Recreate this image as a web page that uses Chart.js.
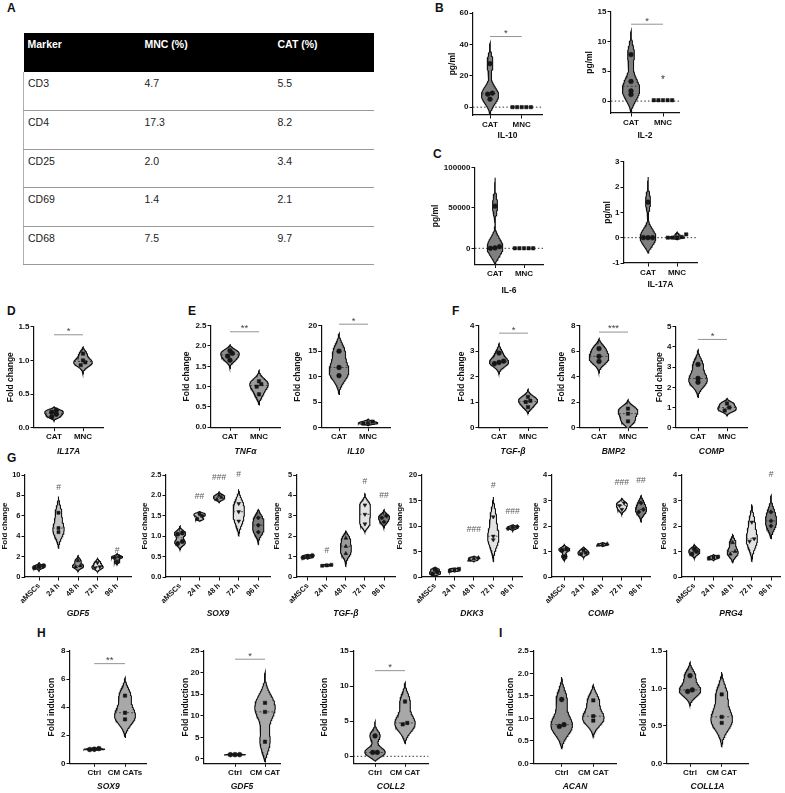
<!DOCTYPE html>
<html lang="en">
<head>
<meta charset="utf-8">
<title>Violin panels</title>
<script src="https://cdn.jsdelivr.net/npm/chart.js@4.4.1/dist/chart.umd.min.js"></script>
<style>
  body { margin: 0; background: #fff; }
  #page { position: relative; width: 785px; height: 793px; overflow: hidden; font-family: "Liberation Sans", Arial, sans-serif; }
  .lbl { position: absolute; font-weight: bold; font-size: 12px; line-height: 1; color: #111; }
  canvas { position: absolute; }
  table.markers { position: absolute; left: 23px; top: 33px; width: 351px; border-collapse: collapse; font-size: 10.5px; color: #222; table-layout: fixed; }
  table.markers th { background: #000; color: #fff; text-align: left; vertical-align: top; height: 39px; padding: 5px 4px 0; box-sizing: border-box; font-weight: bold; }
  table.markers td { vertical-align: top; height: 38.6px; padding: 5px 4px 0; box-sizing: border-box; border-bottom: 1px solid #9a9a9a; }
  table.markers td:first-child { border-left: 1px solid #b0b0b0; }
</style>
</head>
<body>
<div id="page">
  <div class="lbl" style="left:7px;top:2px">A</div>
  <div class="lbl" style="left:435px;top:2px">B</div>
  <div class="lbl" style="left:433px;top:148px">C</div>
  <div class="lbl" style="left:7px;top:305px">D</div>
  <div class="lbl" style="left:188px;top:305px">E</div>
  <div class="lbl" style="left:452px;top:305px">F</div>
  <div class="lbl" style="left:7px;top:452px">G</div>
  <div class="lbl" style="left:37px;top:627px">H</div>
  <div class="lbl" style="left:499px;top:627px">I</div>
  <table class="markers">
    <colgroup><col style="width:117px"><col style="width:133px"><col></colgroup>
    <tr><th>Marker</th><th>MNC (%)</th><th>CAT (%)</th></tr>
    <tr><td>CD3</td><td>4.7</td><td>5.5</td></tr>
    <tr><td>CD4</td><td>17.3</td><td>8.2</td></tr>
    <tr><td>CD25</td><td>2.0</td><td>3.4</td></tr>
    <tr><td>CD69</td><td>1.4</td><td>2.1</td></tr>
    <tr><td>CD68</td><td>7.5</td><td>9.7</td></tr>
  </table>
</div>
<script>
// ---------- data ----------
const catMnc = ['CAT', 'MNC'];
const timeCats = ['aMSCs', '24 h', '48 h', '72 h', '96 h'];

// B / C  (pg/ml)
const il10Vals = [[27.7, 8.9, 8.3, 5.1], [0, 0, 0, 0, 0]];
const il10Ext = [[-5, 41], null];
const il10Ticks = [0, 20, 40, 60];
const il2Vals = [[7.8, 3.3, 1.7, 1.1], [0.15, 0.15, 0.15, 0.15, 0.15]];
const il2Ext = [[-2, 11.8], null];
const il2Ticks = [0, 5, 10, 15];
const il2Note = [[2, 3.9, '*']];
const il6Vals = [[52000, 2000, 500, 0], [0, 0, 0, 0, 0]];
const il6Ext = [[-20000, 87000], null];
const il6Ticks = [0, 50000, 100000];
const il17aVals = [[1.4, 0, 0, 0], [0.13, 0.03, 0, 0, 0]];
const il17aExt = [[-0.6, 2.4], [-0.08, 0.22]];
const il17aTicks = [-1, 0, 1, 2, 3];

// D / E / F  (fold change)
const dIl17aVals = [[0.26, 0.23, 0.2, 0.16], [1.1, 1.0, 0.97, 0.93]];
const dIl17aExt = [[0.1, 0.31], [0.8, 1.2]];
const dIl17aTicks = [0, 0.5, 1, 1.5];
const tnfVals = [[1.88, 1.82, 1.75, 1.65], [1.13, 1.06, 1.0, 0.81]];
const tnfExt = [[1.45, 2.03], [0.55, 1.4]];
const tnfTicks = [0, 0.5, 1, 1.5, 2, 2.5];
const eIl10Vals = [[15, 11.8, 10.2], [1.2, 0.9, 0.8]];
const eIl10Ext = [[6.5, 18.5], [0.4, 1.7]];
const eIl10Ticks = [0, 5, 10, 15, 20];
const tgfVals = [[2.92, 2.6, 2.55, 2.5], [1.2, 1.05, 1.0, 0.8]];
const tgfExt = [[2.1, 3.3], [0.55, 1.5]];
const tgfTicks = [0, 1, 2, 3, 4];
const bmp2Vals = [[6.2, 5.6, 5.2], [1.5, 1.1, 0.5]];
const bmp2Ext = [[4.3, 7.0], [-0.2, 2.2]];
const bmp2Ticks = [0, 2, 4, 6, 8];
const fCompVals = [[3.13, 2.44, 2.25], [1.2, 1.0, 0.85]];
const fCompExt = [[1.5, 3.85], [0.6, 1.45]];
const fCompTicks = [0, 1, 2, 3, 4, 5];

// G  (time course)
const gdf5Vals = [[1.1, 1.0, 0.9], [6.3, 4.8, 4.4], [1.6, 1.1, 1.0], [1.4, 1.0, 0.9], [2.0, 1.9, 1.5]];
const gdf5Ext = [[0.6, 1.4], [2.8, 7.9], [0.55, 2.1], [0.5, 1.9], [1.2, 2.3]];
const gdf5Ticks = [0, 2, 4, 6, 8, 10];
const gdf5Hash = [[2, 8.75, '#'], [5, 2.6, '#']];
const sox9Vals = [[1.08, 1.05, 0.87, 0.82], [1.55, 1.5, 1.42], [2.0, 1.95, 1.9], [1.8, 1.6, 1.37], [1.45, 1.27, 1.1]];
const sox9Ext = [[0.67, 1.25], [1.37, 1.62], [1.83, 2.1], [1.0, 2.15], [0.8, 1.67]];
const sox9Ticks = [0, 0.5, 1, 1.5, 2, 2.5];
const sox9Hash = [[2, 1.96, '##'], [3, 2.43, '###'], [4, 2.5, '#']];
const gTgfVals = [[1.05, 1.0, 0.95], [0.6, 0.57, 0.55], [1.9, 1.5, 1.15], [3.53, 3.07, 2.6], [3.0, 2.9, 2.7]];
const gTgfExt = [[0.88, 1.12], [0.52, 0.62], [0.5, 2.25], [2.2, 4.1], [2.4, 3.3]];
const gTgfTicks = [0, 1, 2, 3, 4, 5];
const gTgfHash = [[2, 1.27, '#'], [4, 4.67, '#'], [5, 4.0, '##']];
const dkk3Vals = [[1.5, 1.0, 0.6], [1.6, 1.4, 1.2], [3.8, 3.6, 3.3], [11.8, 8.0, 7.3], [9.9, 9.7, 9.5]];
const dkk3Ext = [[0, 1.9], [1.0, 1.8], [3.0, 4.1], [3.0, 15.7], [9.0, 10.3]];
const dkk3Ticks = [0, 5, 10, 15, 20];
const dkk3Hash = [[3, 9.2, '###'], [4, 18.0, '#'], [5, 12.8, '###']];
const gCompVals = [[1.1, 1.05, 0.8], [1.05, 0.95, 0.9], [1.3, 1.27, 1.25], [2.9, 2.8, 2.65], [2.9, 2.65, 2.55]];
const gCompExt = [[0.65, 1.3], [0.75, 1.2], [1.2, 1.37], [2.45, 3.1], [2.15, 3.2]];
const gCompTicks = [0, 1, 2, 3, 4];
const gCompHash = [[4, 3.7, '###'], [5, 3.76, '##']];
const prg4Vals = [[1.1, 1.0, 0.9], [0.8, 0.77, 0.72], [1.35, 1.0, 0.9], [2.15, 1.5, 1.4], [2.55, 2.2, 2.0]];
const prg4Ext = [[0.73, 1.3], [0.65, 0.9], [0.55, 1.7], [0.6, 2.85], [1.5, 3.2]];
const prg4Ticks = [0, 1, 2, 3, 4];
const prg4Hash = [[5, 4.0, '#']];

// H / I  (fold induction)
const hSox9Vals = [[1.05, 1.0, 0.98], [4.82, 3.6, 3.13]];
const hSox9Ext = [[0.9, 1.1], [1.85, 6.1]];
const hSox9Ticks = [0, 2, 4, 6, 8];
const hGdf5Vals = [[1.0, 1.0, 1.0], [13.0, 10.9, 4.0]];
const hGdf5Ext = [[0.8, 1.2], [-0.7, 20.1]];
const hGdf5Ticks = [0, 5, 10, 15, 20, 25];
const coll2Vals = [[2.9, 0.55, 0.55], [7.8, 4.75, 4.55]];
const coll2Ext = [[-0.7, 4.95], [1.8, 10.5]];
const coll2Ticks = [0, 5, 10, 15];
const acanVals = [[1.42, 0.86, 0.82], [1.4, 1.05, 0.95]];
const acanExt = [[0.32, 1.92], [0.58, 1.77]];
const acanTicks = [0, 0.5, 1, 1.5, 2, 2.5];
const coll1aVals = [[1.17, 0.98, 0.96], [0.92, 0.62, 0.54]];
const coll1aExt = [[0.77, 1.35], [0.22, 1.22]];
const coll1aTicks = [0, 0.5, 1, 1.5];

// ---------- layout ----------
// box: y-axis x, first category x, last category x, x-axis end, top tick y, axis bottom y, y-title x, x-title y
const fillB = ['#7f7f7f', '#8a8a8a'];
const fillD = ['#8c8c8c', '#9c9c9c'];
const fillG = ['#a9a9a9', '#c6c6c6', '#9b9b9b', '#e3e3e3', '#7d7d7d'];
const fillH = ['#8e8e8e', '#a8a8a8'];
const markCM = ['circle', 'rect'];
const markG = ['circle', 'rect', 'triangle', 'triangleDown', 'rectRot'];

const panels = [
  {box: [473, 490, 521.7, 542, 13, 115, 453, 136], cats: catMnc, vals: il10Vals, ext: il10Ext, ticks: il10Ticks, min: -5, title: 'IL-10', yTitle: 'pg/ml', italic: false, sig: [45, '*'], zero: true, fills: fillB, marks: markCM, half: 0.27},
  {box: [611, 631, 663, 679, 11.7, 113, 590, 136], cats: catMnc, vals: il2Vals, ext: il2Ext, ticks: il2Ticks, min: -2, title: 'IL-2', yTitle: 'pg/ml', italic: false, sig: [12.9, '*'], stars: il2Note, zero: true, fills: fillB, marks: markCM, half: 0.27},
  {box: [475, 495, 524, 543, 167.3, 264.5, 436, 291], cats: catMnc, vals: il6Vals, ext: il6Ext, ticks: il6Ticks, min: -20000, title: 'IL-6', yTitle: 'pg/ml', italic: false, zero: true, fills: fillB, marks: markCM, half: 0.27},
  {box: [624, 648, 677, 697, 161.7, 263, 608, 285], cats: catMnc, vals: il17aVals, ext: il17aExt, ticks: il17aTicks, title: 'IL-17A', yTitle: 'pg/ml', italic: false, zero: true, fills: fillB, marks: markCM, half: 0.27},

  {box: [34, 54, 83, 103, 326.7, 427.7, 11, 452], cats: catMnc, vals: dIl17aVals, ext: dIl17aExt, ticks: dIl17aTicks, title: 'IL17A', yTitle: 'Fold change', italic: true, sig: [1.38, '*'], fills: fillD, marks: markCM, half: 0.32},
  {box: [211, 230, 259, 280, 325.7, 427.2, 187, 452], cats: catMnc, vals: tnfVals, ext: tnfExt, ticks: tnfTicks, title: 'TNFα', yTitle: 'Fold change', italic: true, sig: [2.35, '**'], fills: fillD, marks: markCM, half: 0.32},
  {box: [321.7, 339, 368, 390, 325.7, 427.7, 298, 452], cats: catMnc, vals: eIl10Vals, ext: eIl10Ext, ticks: eIl10Ticks, title: 'IL10', yTitle: 'Fold change', italic: true, sig: [20.3, '*'], fills: fillD, marks: markCM, half: 0.34},
  {box: [479, 499, 528, 547, 325.5, 427.5, 462, 452], cats: catMnc, vals: tgfVals, ext: tgfExt, ticks: tgfTicks, title: 'TGF-β', yTitle: 'Fold change', italic: true, sig: [3.7, '*'], fills: fillD, marks: markCM, half: 0.33},
  {box: [580, 599, 628, 647, 325.7, 427.7, 562, 452], cats: catMnc, vals: bmp2Vals, ext: bmp2Ext, ticks: bmp2Ticks, title: 'BMP2', yTitle: 'Fold change', italic: true, sig: [7.5, '***'], fills: fillD, marks: markCM, half: 0.34},
  {box: [676, 698, 727, 747, 326.7, 427.7, 660, 452], cats: catMnc, vals: fCompVals, ext: fCompExt, ticks: fCompTicks, title: 'COMP', yTitle: 'Fold change', italic: true, sig: [4.37, '*'], fills: fillD, marks: markCM, half: 0.32},

  {box: [25, 39, 117, 131, 475, 577, 5, 614], cats: timeCats, vals: gdf5Vals, ext: gdf5Ext, ticks: gdf5Ticks, title: 'GDF5', yTitle: 'Fold change', italic: true, notes: gdf5Hash, fills: fillG, marks: markG, half: 0.29, rot: 45},
  {box: [166, 180, 258.3, 270, 475, 577, 145, 614], cats: timeCats, vals: sox9Vals, ext: sox9Ext, ticks: sox9Ticks, title: 'SOX9', yTitle: 'Fold change', italic: true, notes: sox9Hash, fills: fillG, marks: markG, half: 0.29, rot: 45},
  {box: [296.7, 307.7, 384, 395, 475, 577, 277, 614], cats: timeCats, vals: gTgfVals, ext: gTgfExt, ticks: gTgfTicks, title: 'TGF-β', yTitle: 'Fold change', italic: true, notes: gTgfHash, fills: fillG, marks: markG, half: 0.29, rot: 45},
  {box: [421.7, 435, 512.7, 522, 475, 577, 400, 614], cats: timeCats, vals: dkk3Vals, ext: dkk3Ext, ticks: dkk3Ticks, title: 'DKK3', yTitle: 'Fold change', italic: true, notes: dkk3Hash, fills: fillG, marks: markG, half: 0.29, rot: 45},
  {box: [551.7, 564.3, 641, 650, 475, 577, 536, 614], cats: timeCats, vals: gCompVals, ext: gCompExt, ticks: gCompTicks, title: 'COMP', yTitle: 'Fold change', italic: true, notes: gCompHash, fills: fillG, marks: markG, half: 0.29, rot: 45},
  {box: [681.7, 694.3, 771, 780, 475, 577, 664, 614], cats: timeCats, vals: prg4Vals, ext: prg4Ext, ticks: prg4Ticks, title: 'PRG4', yTitle: 'Fold change', italic: true, notes: prg4Hash, fills: fillG, marks: markG, half: 0.29, rot: 45},

  {box: [70, 94.3, 125, 146.7, 651, 763.3, 51.7, 787], cats: ['Ctrl', 'CM CATs'], vals: hSox9Vals, ext: hSox9Ext, ticks: hSox9Ticks, title: 'SOX9', yTitle: 'Fold induction', italic: true, sig: [7.1, '**'], fills: fillH, marks: markCM, half: 0.34},
  {box: [204, 235, 265, 280, 651, 763.3, 186, 787], cats: ['Ctrl', 'CM CAT'], vals: hGdf5Vals, ext: hGdf5Ext, ticks: hGdf5Ticks, min: -1, title: 'GDF5', yTitle: 'Fold induction', italic: true, sig: [23.1, '*'], fills: fillH, marks: markCM, half: 0.34},
  {box: [353.3, 375, 405, 428.3, 651, 763.3, 325.5, 787], cats: ['Ctrl', 'CM CAT'], vals: coll2Vals, ext: coll2Ext, ticks: coll2Ticks, min: -1, title: 'COLL2', yTitle: 'Fold induction', italic: true, sig: [12.2, '*'], zero: true, fills: fillH, marks: markCM, half: 0.34},
  {box: [533.3, 561.7, 593.3, 616.7, 651, 763.3, 511, 787], cats: ['Ctrl', 'CM CAT'], vals: acanVals, ext: acanExt, ticks: acanTicks, title: 'ACAN', yTitle: 'Fold induction', italic: true, fills: fillH, marks: markCM, half: 0.34},
  {box: [666.7, 690, 721.7, 748.3, 651, 763.3, 644, 787], cats: ['Ctrl', 'CM CAT'], vals: coll1aVals, ext: coll1aExt, ticks: coll1aTicks, title: 'COLL1A', yTitle: 'Fold induction', italic: true, fills: fillH, marks: markCM, half: 0.34}
];

const FONT = '"Liberation Sans", Arial, sans-serif';

// gaussian density over the visible extent, tapered to zero at both tips
function violinShape(vals, lo, hi) {
  const gap = ((Math.min(...vals) - lo) + (hi - Math.max(...vals))) / 2;
  const bw = Math.max(gap / 2.3, (hi - lo) / 200);
  const N = 80, ys = [], ws = [];
  for (let i = 0; i <= N; i++) {
    const y = lo + (hi - lo) * i / N;
    let d = 0;
    vals.forEach(v => { d += Math.exp(-0.5 * Math.pow((y - v) / bw, 2)); });
    ys.push(y); ws.push(d);
  }
  const d0 = ws[0], d1 = ws[N];
  for (let i = 0; i <= N; i++) ws[i] = Math.max(0, ws[i] - (d0 + (d1 - d0) * i / N));
  const m = Math.max(...ws) || 1;
  return {ys, ws: ws.map(w => w / m)};
}

function widthAt(shape, y) {
  let best = 0, bd = Infinity;
  shape.ys.forEach((v, i) => { if (Math.abs(v - y) < bd) { bd = Math.abs(v - y); best = i; } });
  return shape.ws[best];
}

function median(vals) {
  const s = vals.slice().sort((a, b) => a - b), k = s.length;
  return k % 2 ? s[(k - 1) / 2] : (s[k / 2 - 1] + s[k / 2]) / 2;
}

// spread points that sit at (nearly) the same height side by side
function spread(vals, cx, tol, gapX) {
  const s = vals.slice().sort((a, b) => a - b);
  const out = [];
  let grp = [];
  const flush = () => {
    grp.forEach((v, j) => out.push({x: cx + (j - (grp.length - 1) / 2) * gapX, y: v}));
    grp = [];
  };
  s.forEach(v => { if (grp.length && v - grp[0] > tol) flush(); grp.push(v); });
  flush();
  return out;
}

const annot = {
  id: 'annot',
  beforeDatasetsDraw(chart, args, o) {
    if (!o.zero) return;
    const {ctx, chartArea: a} = chart;
    const py = chart.scales.y.getPixelForValue(0);
    ctx.save();
    ctx.strokeStyle = '#333';
    ctx.lineWidth = 1;
    ctx.setLineDash([1.5, 2.2]);
    ctx.beginPath(); ctx.moveTo(a.left, py); ctx.lineTo(a.right, py); ctx.stroke();
    ctx.restore();
  },
  afterDraw(chart, args, o) {
    const {ctx} = chart;
    const x = chart.scales.x, y = chart.scales.y;
    ctx.save();
    ctx.textAlign = 'center';
    if (o.sig) {
      const py = y.getPixelForValue(o.sig[0]);
      const x1 = x.getPixelForValue(1), x2 = x.getPixelForValue(2);
      ctx.strokeStyle = '#777'; ctx.lineWidth = 0.8;
      ctx.beginPath(); ctx.moveTo(x1, py); ctx.lineTo(x2, py); ctx.stroke();
      ctx.fillStyle = '#444'; ctx.font = '9.5px ' + FONT; ctx.textBaseline = 'bottom';
      ctx.fillText(o.sig[1], (x1 + x2) / 2, py + 1.5);
    }
    if (o.notes) {
      ctx.fillStyle = '#5a5a5a'; ctx.font = '8.5px ' + FONT; ctx.textBaseline = 'middle';
      o.notes.forEach(nt => ctx.fillText(nt[2], x.getPixelForValue(nt[0]), y.getPixelForValue(nt[1])));
    }
    if (o.stars) {
      ctx.fillStyle = '#333'; ctx.font = '10px ' + FONT; ctx.textBaseline = 'middle';
      o.stars.forEach(nt => ctx.fillText(nt[2], x.getPixelForValue(nt[0]), y.getPixelForValue(nt[1]) + 2));
    }
    ctx.restore();
  }
};

const page = document.getElementById('page');

panels.forEach(p => {
  const [ax, fx, lx, ex, ty, by, ytx, xty] = p.box;
  const n = p.cats.length;
  const step = (lx - fx) / (n - 1);
  const xmin = 1 - (fx - ax) / step, xmax = n + (ex - lx) / step;
  const ymin = p.min !== undefined ? p.min : p.ticks[0];
  const ymax = p.ticks[p.ticks.length - 1];
  const titleSize = p.rot ? 8 : 8.5;

  const left = Math.round(ytx - titleSize * 0.6);
  const top = Math.round(ty - 16);
  const W = Math.ceil(ex - left + 8);
  const H = Math.round(xty + 5.1 - top);
  const yw = ax - left, padTop = ty - top, padRight = left + W - ex, xh = top + H - by;

  const cv = document.createElement('canvas');
  cv.width = W; cv.height = H;
  cv.style.left = left + 'px'; cv.style.top = top + 'px';
  cv.style.width = W + 'px'; cv.style.height = H + 'px';
  page.appendChild(cv);

  const pxPerY = (by - ty) / (ymax - ymin);
  const tol = 3.5 / pxPerY, gapX = 4.6 / step;
  const datasets = [];

  p.vals.forEach((vals, g) => {
    const cx = g + 1;
    datasets.push({
      type: 'scatter', order: 0,
      data: spread(vals, cx, tol, gapX),
      pointStyle: p.marks[g] === 'triangleDown' ? 'triangle' : p.marks[g],
      rotation: p.marks[g] === 'triangleDown' ? 180 : 0,
      pointRadius: p.rot ? 2.2 : 2.4,
      backgroundColor: '#161616', borderColor: '#161616', borderWidth: 0.5
    });
    const e = p.ext[g];
    if (!e) return;
    const shape = violinShape(vals, e[0], e[1]);
    const right = shape.ys.map((yv, i) => ({x: cx + shape.ws[i] * p.half, y: yv}));
    const leftSide = shape.ys.map((yv, i) => ({x: cx - shape.ws[i] * p.half, y: yv})).reverse();
    datasets.push({
      type: 'line', order: 2,
      data: right.concat(leftSide),
      fill: 'shape', backgroundColor: p.fills[g],
      borderColor: '#111', borderWidth: 1.1, pointRadius: 0, tension: 0
    });
    const m = median(vals), mw = widthAt(shape, m) * p.half;
    datasets.push({
      type: 'line', order: 1,
      data: [{x: cx - mw, y: m}, {x: cx + mw, y: m}],
      fill: false, borderColor: '#333', borderWidth: 0.8, borderDash: [2, 2], pointRadius: 0
    });
  });

  const dec = p.ticks.some(t => !Number.isInteger(t)) ? 1 : 0;
  const tickFont = {family: FONT, size: p.rot ? 7.5 : 8, weight: 'bold'};

  new Chart(cv, {
    type: 'line',
    data: {datasets},
    options: {
      responsive: false, animation: false,
      layout: {padding: {top: padTop, right: padRight, left: 0, bottom: 0}},
      plugins: {
        legend: {display: false}, tooltip: {enabled: false},
        annot: {sig: p.sig || null, notes: p.notes || null, stars: p.stars || null, zero: !!p.zero}
      },
      scales: {
        x: {
          type: 'linear', min: xmin, max: xmax,
          afterBuildTicks: s => { s.ticks = p.cats.map((c, i) => ({value: i + 1})); },
          afterFit: s => { s.height = xh; },
          ticks: {
            autoSkip: false, padding: 1, color: '#111', font: tickFont,
            maxRotation: p.rot || 0, minRotation: p.rot || 0,
            callback: (v, i) => p.cats[i]
          },
          grid: {drawOnChartArea: false, tickLength: 3.5, color: '#111', lineWidth: 1},
          border: {color: '#111', width: 1.2},
          title: {
            display: true, text: p.title, padding: 0, color: '#111',
            font: {family: FONT, size: 8.5, weight: 'bold', style: p.italic ? 'italic' : 'normal'}
          }
        },
        y: {
          type: 'linear', min: ymin, max: ymax,
          afterBuildTicks: s => { s.ticks = p.ticks.map(v => ({value: v})); },
          afterFit: s => { s.width = yw; },
          ticks: {padding: 1, color: '#111', font: tickFont, callback: v => v.toFixed(dec)},
          grid: {drawOnChartArea: false, tickLength: 3.5, color: '#111', lineWidth: 1},
          border: {color: '#111', width: 1.2},
          title: {display: true, text: p.yTitle, padding: 0, color: '#111', font: {family: FONT, size: titleSize, weight: 'bold'}}
        }
      }
    },
    plugins: [annot]
  });
});
</script>
</body>
</html>
